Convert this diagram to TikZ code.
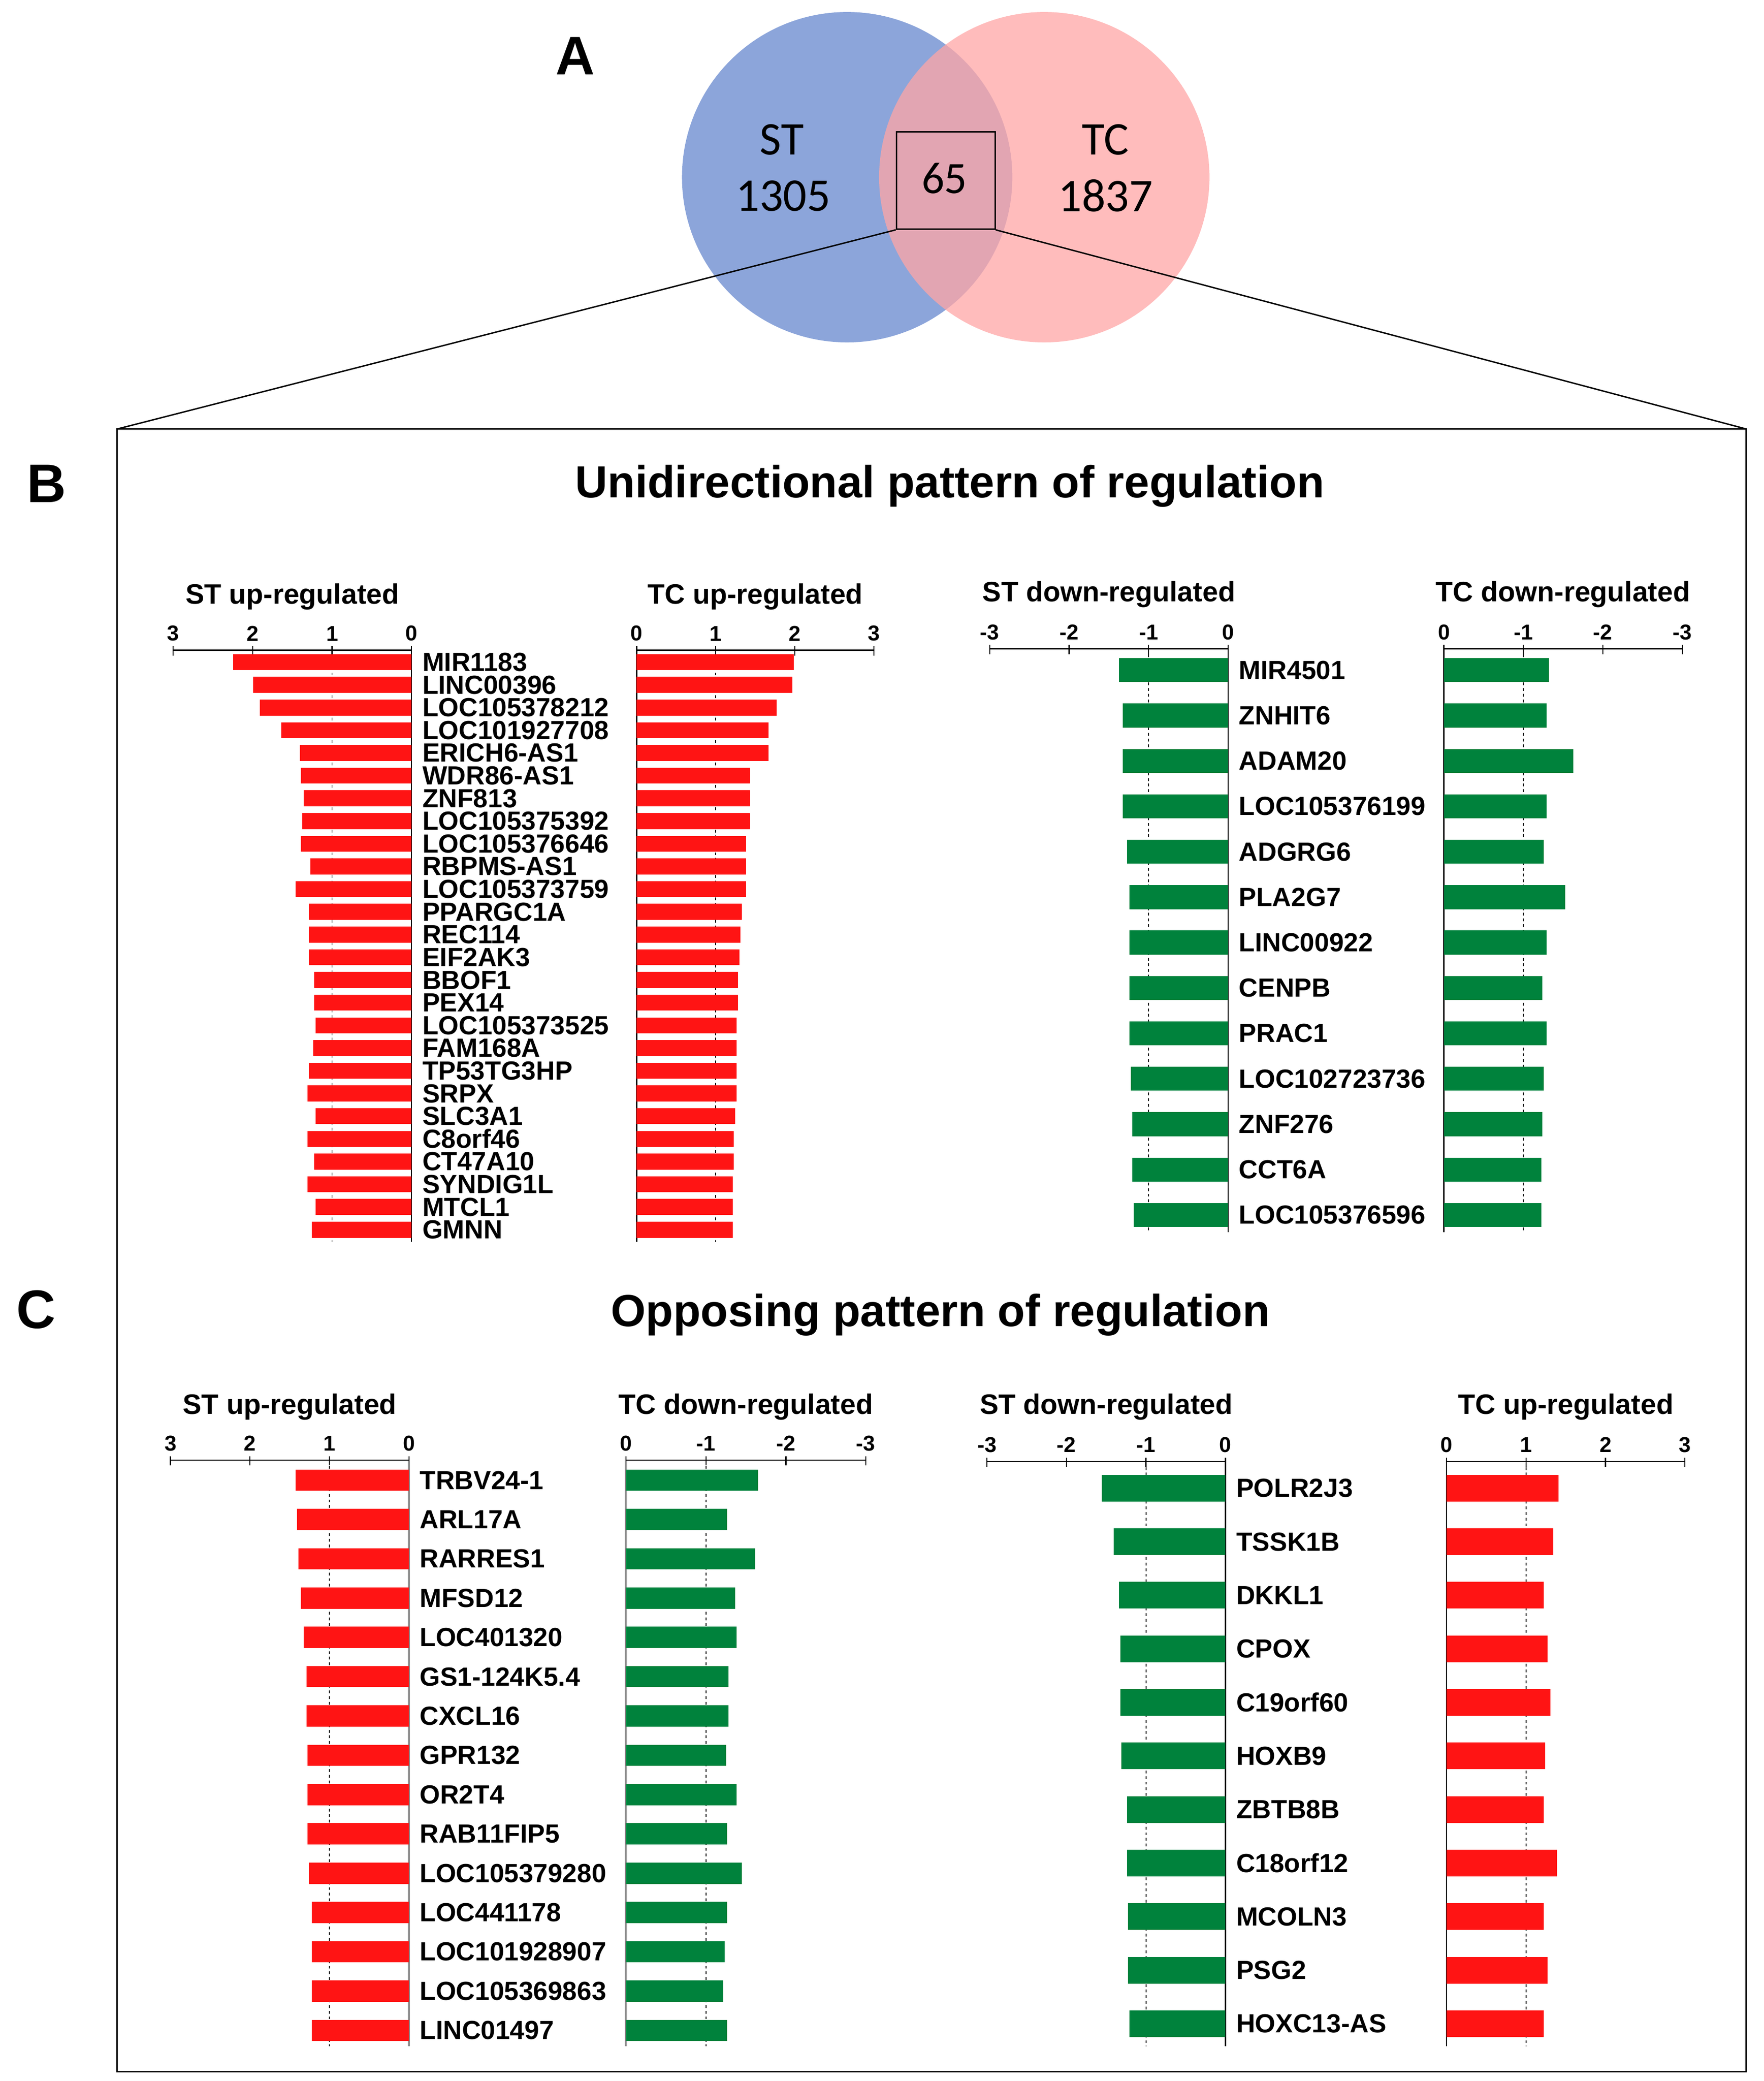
\documentclass[tikz,border=0pt]{standalone}
\usepackage{fontspec}
\setmainfont{Liberation Sans}
\newfontfamily\carlitofont{Carlito}
\definecolor{bred}{RGB}{255,20,20}
\definecolor{bgreen}{RGB}{0,130,60}
\definecolor{vblue}{RGB}{140,165,218}
\definecolor{vpink}{RGB}{255,165,165}
% #1 x0, #2 x3, #3 y axis, #4 tick list, #5 ybottom, #6 title, #7 title y
\newcommand\myaxis[7]{%
  \draw[line width=1.2pt] (#1,#3) -- (#2,#3);
  \draw[line width=1.2pt] (#1,#3) -- (#1,#5);
  \pgfmathsetmacro\xd{#1+(#2-#1)/3}
  \draw[dashed, line width=0.9pt] (\xd,#3) -- (\xd,#5);
  \foreach \i/\t in {#4} {
    \pgfmathsetmacro\xx{#1+(#2-#1)*\i/3}
    \draw[line width=1.2pt] (\xx,#3-3) -- (\xx,#3+4);
    \node[anchor=south, font=\bfseries\fontsize{23}{23}\selectfont, inner sep=1pt] at (\xx,#3-6) {\t};
  }
  \pgfmathsetmacro\xm{(#1+#2)/2}
  \node[font=\bfseries\fontsize{30}{30}\selectfont] at (\xm,#7) {#6};
}
% #1 x0, #2 yfirst, #3 spacing, #4 bar height, #5 color, #6 list end/name, #7 show labels (1/0)
\newcommand\mybars[7]{%
  \foreach \e/\n [count=\k from 0] in {#6} {
    \pgfmathsetmacro\yy{#2+\k*#3}
    \fill[#5] (#1,\yy-#4/2) rectangle (\e,\yy+#4/2);
    \ifnum#7=1
      \node[anchor=west, font=\bfseries\fontsize{28}{28}\selectfont, inner sep=0pt] at (#1+8,\yy) {\n};
    \fi
  }
}
\begin{document}
\begin{tikzpicture}[x=0.05cm,y=-0.05cm]
\path (0,0) rectangle (1324,1562);
% Venn
\fill[vblue] (636,133) circle (124);
\fill[vpink, opacity=0.75] (784,133) circle (124);
\node[draw, line width=1.5pt, minimum width=74*0.05cm, minimum height=73*0.05cm] (sq) at (710,135.5) {};
\node[font=\carlitofont\fontsize{50}{50}\selectfont] (st) at (587,105) {ST};
\node[font=\carlitofont\fontsize{50}{50}\selectfont] (stn) at (588,147) {1305};
\node[font=\carlitofont\fontsize{50}{50}\selectfont] (tc) at (830,105) {TC};
\node[font=\carlitofont\fontsize{50}{50}\selectfont] (tcn) at (830,147) {1837};
\node[font=\carlitofont\fontsize{48}{48}\selectfont] (n65) at (709,134) {65};
\node[font=\bfseries\fontsize{58}{58}\selectfont] (A) at (432,42) {A};
\coordinate (bl) at (88,322); \coordinate (br) at (1311,322);
\draw[line width=1.5pt] (sq.south west) -- (bl);
\draw[line width=1.5pt] (sq.south east) -- (br);
\draw[line width=1.5pt] (88,322) rectangle (1311,1555);
\node[font=\bfseries\fontsize{58}{58}\selectfont] (B) at (35,363) {B};
\node[font=\bfseries\fontsize{58}{58}\selectfont] (C) at (27,983) {C};
\node[font=\bfseries\fontsize{48}{48}\selectfont] (tB) at (713,365) {Unidirectional pattern of regulation};
\node[font=\bfseries\fontsize{48}{48}\selectfont] (tC) at (706,987) {Opposing pattern of regulation};
% Panel B
\myaxis{309}{130}{488}{0/0,1/1,2/2,3/3}{932}{ST up-regulated}{448}
\mybars{309}{497}{17.04}{12}{bred}{175/MIR1183,190/LINC00396,195/LOC105378212,211/LOC101927708,225/ERICH6-AS1,226/WDR86-AS1,228/ZNF813,227/LOC105375392,226/LOC105376646,233/RBPMS-AS1,222/LOC105373759,232/PPARGC1A,232/REC114,232/EIF2AK3,236/BBOF1,236/PEX14,237/LOC105373525,235/FAM168A,232/TP53TG3HP,231/SRPX,237/SLC3A1,231/C8orf46,236/CT47A10,231/SYNDIG1L,237/MTCL1,234/GMNN}{1}
\myaxis{478}{656}{488}{0/0,1/1,2/2,3/3}{932}{TC up-regulated}{448}
\mybars{478}{497}{17.04}{12}{bred}{596/a,595/a,583/a,577/a,577/a,563/a,563/a,563/a,560/a,560/a,560/a,557/a,556/a,555/a,554/a,554/a,553/a,553/a,553/a,553/a,552/a,551/a,551/a,550/a,550/a,550/a}{0}
\myaxis{922}{743}{487}{0/0,1/-1,2/-2,3/-3}{925}{ST down-regulated}{446}
\mybars{922}{503}{34.08}{18}{bgreen}{840/MIR4501,843/ZNHIT6,843/ADAM20,843/LOC105376199,846/ADGRG6,848/PLA2G7,848/LINC00922,848/CENPB,848/PRAC1,849/LOC102723736,850/ZNF276,850/CCT6A,851/LOC105376596}{1}
\myaxis{1084}{1263}{487}{0/0,1/-1,2/-2,3/-3}{925}{TC down-regulated}{446}
\mybars{1084}{503}{34.08}{18}{bgreen}{1163/a,1161/a,1181/a,1161/a,1159/a,1175/a,1161/a,1158/a,1161/a,1159/a,1158/a,1157/a,1157/a}{0}
% Panel C
\myaxis{307}{128}{1096}{0/0,1/1,2/2,3/3}{1536}{ST up-regulated}{1056}
\mybars{307}{1111}{29.5}{16}{bred}{222/TRBV24-1,223/ARL17A,224/RARRES1,226/MFSD12,228/LOC401320,230/GS1-124K5.4,230/CXCL16,231/GPR132,231/OR2T4,231/RAB11FIP5,232/LOC105379280,234/LOC441178,234/LOC101928907,234/LOC105369863,234/LINC01497}{1}
\myaxis{470}{650}{1096}{0/0,1/-1,2/-2,3/-3}{1536}{TC down-regulated}{1056}
\mybars{470}{1111}{29.5}{16}{bgreen}{569/a,546/a,567/a,552/a,553/a,547/a,547/a,545/a,553/a,546/a,557/a,546/a,544/a,543/a,546/a}{0}
\myaxis{920}{741}{1097}{0/0,1/-1,2/-2,3/-3}{1536}{ST down-regulated}{1056}
\mybars{920}{1117}{40.2}{20}{bgreen}{827/POLR2J3,836/TSSK1B,840/DKKL1,841/CPOX,841/C19orf60,842/HOXB9,846/ZBTB8B,846/C18orf12,847/MCOLN3,847/PSG2,848/HOXC13-AS}{1}
\myaxis{1086}{1265}{1097}{0/0,1/1,2/2,3/3}{1536}{TC up-regulated}{1056}
\mybars{1086}{1117}{40.2}{20}{bred}{1170/a,1166/a,1159/a,1162/a,1164/a,1160/a,1159/a,1169/a,1159/a,1162/a,1159/a}{0}
\end{tikzpicture}
\end{document}
